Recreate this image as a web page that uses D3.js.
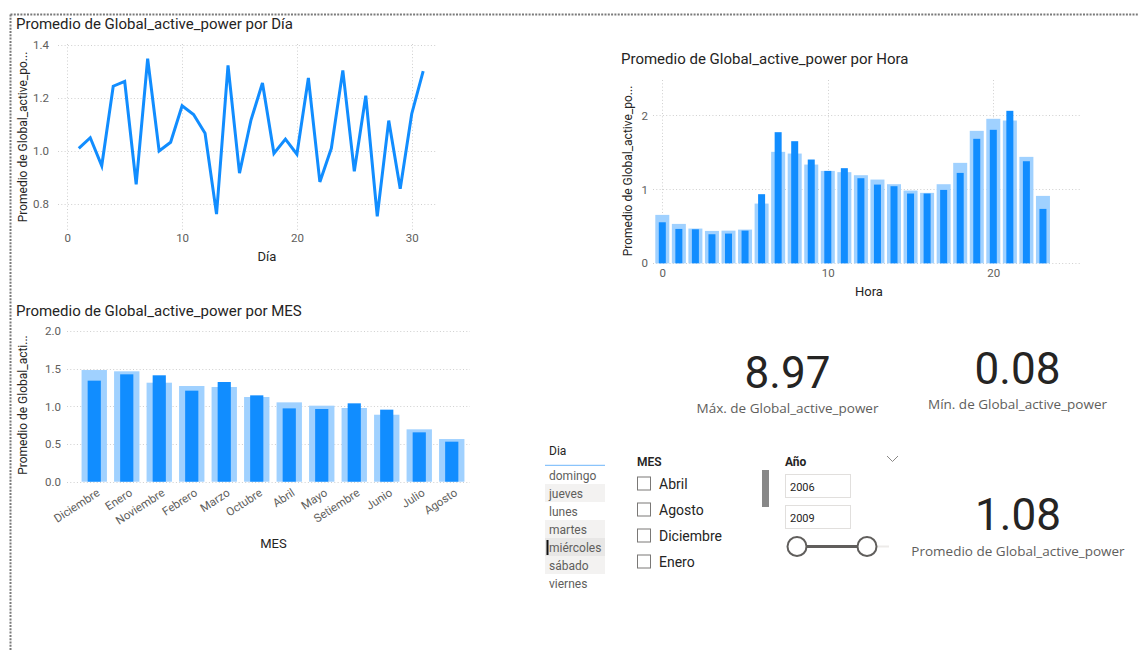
<!DOCTYPE html>
<html lang="es">
<head>
<meta charset="utf-8">
<script src="https://cdn.jsdelivr.net/npm/d3@7"></script>
<style>
  html, body { margin: 0; padding: 0; background: #fff; }
  svg { display: block; }
  text { font-family: Roboto, "DejaVu Sans", sans-serif; }
  .ui { font-family: "Open Sans", "Noto Sans", sans-serif; }
</style>
</head>
<body>
<svg id="report" width="1139" height="651"></svg>
<script>
// ---- Data -------------------------------------------------------------
const days = [1,2,3,4,5,6,7,8,9,10,11,12,13,14,15,16,17,18,19,20,21,22,23,24,25,26,27,28,29,30,31];
const dayPower = [1.009,1.049,0.943,1.244,1.262,0.873,1.348,0.999,1.032,1.170,1.137,1.066,0.760,1.323,
                  0.915,1.116,1.256,0.990,1.044,0.987,1.275,0.882,1.009,1.304,0.922,1.208,0.752,1.114,
                  0.856,1.139,1.301];
const dayTicks = [0, 10, 20, 30];
const dayYTicks = [0.8, 1.0, 1.2, 1.4];

const hours = [0,1,2,3,4,5,6,7,8,9,10,11,12,13,14,15,16,17,18,19,20,21,22,23];
const hourPowerAll = [0.655,0.533,0.470,0.438,0.442,0.456,0.808,1.508,1.485,1.336,1.250,1.233,
                      1.192,1.133,1.070,0.984,0.953,1.070,1.359,1.792,1.955,1.932,1.440,0.912];
const hourPowerSel = [0.555,0.465,0.460,0.393,0.402,0.442,0.935,1.774,1.652,1.404,1.250,1.287,
                      1.151,1.065,1.043,0.944,0.944,0.993,1.223,1.684,1.806,2.063,1.381,0.736];
const hourTicks = [0, 10, 20];
const hourYTicks = [0, 1, 2];

const months = ["Diciembre","Enero","Noviembre","Febrero","Marzo","Octubre","Abril","Mayo",
                "Setiembre","Junio","Julio","Agosto"];
const monthPowerAll = [1.482,1.465,1.314,1.270,1.257,1.124,1.053,1.009,0.978,0.889,0.695,0.566];
const monthPowerSel = [1.341,1.425,1.412,1.208,1.323,1.146,0.973,0.965,1.040,0.956,0.655,0.531];
const monthYTicks = [0, 0.5, 1.0, 1.5, 2.0];

const cardValues = [8.97, 0.08, 1.08];
const cardLabels = ["Máx. de Global_active_power", "Mín. de Global_active_power", "Promedio de Global_active_power"];

const weekdays = ["domingo","jueves","lunes","martes","miércoles","sábado","viernes"];
const monthSlicerItems = ["Abril","Agosto","Diciembre","Enero"];
const yearRange = [2006, 2009];

// ---- Styling ----------------------------------------------------------
const BLUE = "#118DFF";
const BLUE_LIGHT = "#A0D1FF";
const TITLE = "#252423";
const MUTED = "#605E5C";
const GRID = "#CFCFCF";

const svg = d3.select("#report");

// report canvas border (dotted)
svg.append("line").attr("x1", 10.5).attr("x2", 1139).attr("y1", 14.5).attr("y2", 14.5)
  .attr("stroke", "#7a7a7a").attr("stroke-width", 2).attr("stroke-dasharray", "2 1.3");
svg.append("line").attr("x1", 10.5).attr("x2", 10.5).attr("y1", 14.5).attr("y2", 651)
  .attr("stroke", "#7a7a7a").attr("stroke-width", 2).attr("stroke-dasharray", "2 1.3");

function title(x, y, txt) {
  svg.append("text").attr("x", x).attr("y", y).attr("fill", TITLE)
    .attr("font-size", 15).attr("font-weight", 400).text(txt);
}
function yTitle(cx, cy, txt) {
  svg.append("text").attr("transform", `translate(${cx},${cy}) rotate(-90)`)
    .attr("text-anchor", "middle").attr("fill", TITLE).attr("font-size", 12).text(txt);
}
function xTitle(cx, y, txt) {
  svg.append("text").attr("x", cx).attr("y", y).attr("text-anchor", "middle")
    .attr("fill", TITLE).attr("font-size", 13).attr("font-weight", 400).text(txt);
}
function hGrid(g, scale, ticks, x1, x2) {
  g.selectAll(null).data(ticks).join("line")
    .attr("x1", x1).attr("x2", x2)
    .attr("y1", d => Math.round(scale(d)) + 0.5).attr("y2", d => Math.round(scale(d)) + 0.5)
    .attr("stroke", GRID).attr("stroke-dasharray", "1 2.3");
}
function vGrid(g, scale, ticks, y1, y2) {
  g.selectAll(null).data(ticks).join("line")
    .attr("y1", y1).attr("y2", y2)
    .attr("x1", d => Math.round(scale(d)) + 0.5).attr("x2", d => Math.round(scale(d)) + 0.5)
    .attr("stroke", GRID).attr("stroke-dasharray", "1 2.3");
}
function styleAxis(g) {
  g.select(".domain").remove();
  g.selectAll(".tick line").remove();
  g.selectAll(".tick text").attr("fill", MUTED).attr("font-size", 11.5)
    .attr("font-family", "Roboto, sans-serif");
}

// ---- Line chart: power by day ----------------------------------------
{
  const x = d3.scaleLinear().domain([0, 30]).range([67.3, 411.7]);
  const y = d3.scaleLinear().domain([0.7, 1.4]).range([230, 45]);
  const g = svg.append("g");
  hGrid(g, y, dayYTicks, 58, 437);
  vGrid(g, x, dayTicks, 44, 232);
  g.append("g").attr("transform", "translate(49,0)")
    .call(d3.axisLeft(y).tickValues(dayYTicks).tickFormat(d3.format(".1f")).tickSize(0).tickPadding(0))
    .call(styleAxis);
  g.append("g").attr("transform", "translate(0,234)")
    .call(d3.axisBottom(x).tickValues(dayTicks).tickSize(0).tickPadding(0))
    .call(styleAxis);
  const line = d3.line().x((d, i) => x(days[i])).y(d => y(d));
  g.append("path").datum(dayPower).attr("d", line)
    .attr("fill", "none").attr("stroke", BLUE).attr("stroke-width", 3)
    .attr("stroke-linejoin", "miter").attr("stroke-miterlimit", 4);
  title(16, 28.5, "Promedio de Global_active_power por Día");
  yTitle(27, 137, "Promedio de Global_active_po...");
  xTitle(267, 261, "Día");
}

// ---- Column chart: power by hour -------------------------------------
{
  const x = d3.scaleLinear().domain([0, 20]).range([662.3, 993.3]);
  const y = d3.scaleLinear().domain([0, 2.48]).range([263.3, 80]);
  const g = svg.append("g");
  hGrid(g, y, hourYTicks, 653, 1080);
  vGrid(g, x, hourTicks, 80, 264);
  g.append("g").attr("transform", "translate(648,0)")
    .call(d3.axisLeft(y).tickValues(hourYTicks).tickFormat(d3.format("d")).tickSize(0).tickPadding(0))
    .call(styleAxis);
  g.append("g").attr("transform", "translate(0,269)")
    .call(d3.axisBottom(x).tickValues(hourTicks).tickSize(0).tickPadding(0))
    .call(styleAxis);
  const wAll = 14, wSel = 7;
  g.selectAll(null).data(hourPowerAll).join("rect")
    .attr("x", (d, i) => x(hours[i]) - wAll / 2).attr("width", wAll)
    .attr("y", d => y(d)).attr("height", d => y(0) - y(d)).attr("fill", BLUE_LIGHT);
  g.selectAll(null).data(hourPowerSel).join("rect")
    .attr("x", (d, i) => x(hours[i]) - wSel / 2).attr("width", wSel)
    .attr("y", d => y(d)).attr("height", d => y(0) - y(d)).attr("fill", BLUE);
  title(621, 63.5, "Promedio de Global_active_power por Hora");
  yTitle(632, 171, "Promedio de Global_active_po...");
  xTitle(869, 296, "Hora");
}

// ---- Column chart: power by month ------------------------------------
{
  const x = d3.scaleBand().domain(months).range([78, 468]).paddingInner(0.22).paddingOuter(0.11);
  const y = d3.scaleLinear().domain([0, 2]).range([481.7, 331]);
  const g = svg.append("g");
  hGrid(g, y, monthYTicks, 67, 470);
  g.append("g").attr("transform", "translate(61,0)")
    .call(d3.axisLeft(y).tickValues(monthYTicks).tickFormat(d3.format(".1f")).tickSize(0).tickPadding(0))
    .call(styleAxis);
  const bw = x.bandwidth(), sw = bw * 0.52;
  g.selectAll(null).data(monthPowerAll).join("rect")
    .attr("x", (d, i) => x(months[i])).attr("width", bw)
    .attr("y", d => y(d)).attr("height", d => y(0) - y(d)).attr("fill", BLUE_LIGHT);
  g.selectAll(null).data(monthPowerSel).join("rect")
    .attr("x", (d, i) => x(months[i]) + (bw - sw) / 2).attr("width", sw)
    .attr("y", d => y(d)).attr("height", d => y(0) - y(d)).attr("fill", BLUE);
  g.selectAll(null).data(months).join("text")
    .attr("transform", d => `translate(${x(d) + bw / 2 + 2},${488}) rotate(-33)`)
    .attr("text-anchor", "end").attr("dy", "0.7em")
    .attr("fill", MUTED).attr("font-size", 11.5).text(d => d);
  title(16, 315.5, "Promedio de Global_active_power por MES");
  yTitle(27, 405, "Promedio de Global_acti...");
  xTitle(273.5, 548, "MES");
}

// ---- Cards -------------------------------------------------------------
{
  const fmt = d3.format(".2f");
  const cards = [
    { cx: 787.5, vy: 388, ly: 413 },
    { cx: 1017.5, vy: 383.5, ly: 408.5 },
    { cx: 1018, vy: 529.5, ly: 556 }
  ];
  cards.forEach((c, i) => {
    svg.append("text").attr("x", c.cx).attr("y", c.vy).attr("text-anchor", "middle")
      .attr("fill", TITLE).attr("font-size", 44).text(fmt(cardValues[i]));
    svg.append("text").attr("class", "ui").attr("x", c.cx).attr("y", c.ly).attr("text-anchor", "middle")
      .attr("fill", MUTED).attr("font-size", 13.5).text(cardLabels[i]);
  });
}

// ---- Slicer: weekday list ----------------------------------------------
{
  const g = svg.append("g").attr("class", "ui");
  g.append("text").attr("x", 549).attr("y", 455).attr("fill", TITLE).attr("font-size", 12).text("Dia");
  g.append("line").attr("x1", 545).attr("x2", 605).attr("y1", 465.5).attr("y2", 465.5)
    .attr("stroke", "#8AC4FB").attr("stroke-width", 1.5);
  const rowH = 18, top = 466;
  const fills = ["#fff", "#F3F2F1", "#fff", "#F3F2F1", "#E8E7E6", "#F3F2F1", "#fff"];
  weekdays.forEach((d, i) => {
    g.append("rect").attr("x", 545).attr("y", top + i * rowH).attr("width", 60).attr("height", rowH)
      .attr("fill", fills[i]);
    g.append("text").attr("x", 549).attr("y", top + i * rowH + 13.5).attr("fill", MUTED)
      .attr("font-size", 12).text(d);
  });
  // text cursor on the focused item
  g.append("rect").attr("x", 546.5).attr("y", top + 4 * rowH + 2).attr("width", 2).attr("height", 15).attr("fill", "#111");
}

// ---- Slicer: month checklist -------------------------------------------
{
  const g = svg.append("g").attr("class", "ui");
  g.append("text").attr("x", 637).attr("y", 466).attr("fill", TITLE).attr("font-size", 12)
    .attr("font-weight", 600).text("MES");
  monthSlicerItems.forEach((m, i) => {
    const cy = 484 + i * 26;
    g.append("rect").attr("x", 637.5).attr("y", cy - 7).attr("width", 13).attr("height", 13)
      .attr("fill", "#fff").attr("stroke", "#7a7876");
    g.append("text").attr("x", 659).attr("y", cy + 5).attr("fill", TITLE).attr("font-size", 14).text(m);
  });
  g.append("rect").attr("x", 762).attr("y", 470).attr("width", 7).attr("height", 37).attr("fill", "#888");
}

// ---- Slicer: year range ----------------------------------------------
{
  const g = svg.append("g").attr("class", "ui");
  g.append("text").attr("x", 785).attr("y", 466).attr("fill", TITLE).attr("font-size", 12)
    .attr("font-weight", 700).text("Año");
  g.append("path").attr("d", "M887,456 L892.5,461.5 L898,456").attr("fill", "none")
    .attr("stroke", "#8a8886").attr("stroke-width", 1);
  yearRange.forEach((yr, i) => {
    const by = 474.5 + i * 31;
    g.append("rect").attr("x", 785.5).attr("y", by).attr("width", 65).attr("height", 23)
      .attr("fill", "#fff").attr("stroke", "#E1DFDD");
    g.append("text").attr("x", 790).attr("y", by + 16).attr("fill", TITLE).attr("font-size", 11).text(yr);
  });
  const s = d3.scaleLinear().domain(yearRange).range([797, 867]);
  g.append("line").attr("x1", s(yearRange[1])).attr("x2", 889).attr("y1", 546.5).attr("y2", 546.5)
    .attr("stroke", "#EDEBE9").attr("stroke-width", 2);
  g.append("line").attr("x1", s(yearRange[0])).attr("x2", s(yearRange[1])).attr("y1", 546.5).attr("y2", 546.5)
    .attr("stroke", "#605E5C").attr("stroke-width", 3);
  g.selectAll(null).data(yearRange).join("circle")
    .attr("cx", d => s(d)).attr("cy", 546.5).attr("r", 9.5)
    .attr("fill", "#fff").attr("stroke", "#605E5C").attr("stroke-width", 2);
}
</script>
</body>
</html>
